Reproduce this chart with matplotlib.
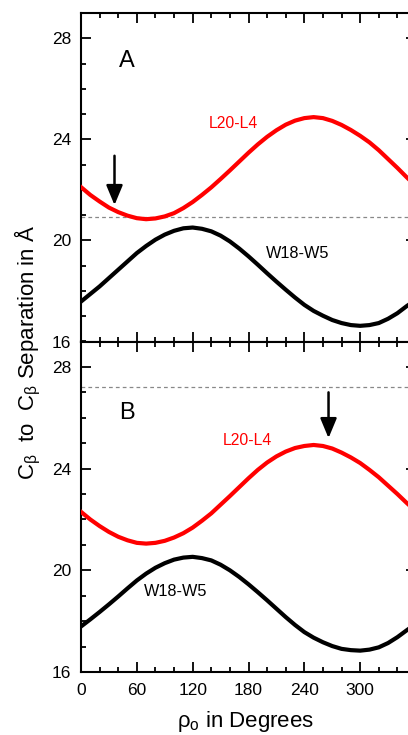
import matplotlib
matplotlib.use("Agg")
import matplotlib.pyplot as plt
from matplotlib.ticker import MultipleLocator, FixedLocator, FixedFormatter

plt.rcParams['font.family'] = ['Liberation Sans', 'DejaVu Sans']
plt.rcParams['mathtext.fontset'] = 'custom'
plt.rcParams['mathtext.rm'] = 'Liberation Sans'
plt.rcParams['mathtext.it'] = 'Liberation Sans'

# angle in degrees, every 10
angle = list(range(0, 361, 10))

# panel A
l20_l4_a = [22.11, 21.8, 21.54, 21.3, 21.12, 20.98, 20.88, 20.84, 20.87, 20.95,
            21.08, 21.28, 21.52, 21.8, 22.1, 22.43, 22.77, 23.12, 23.47, 23.8,
            24.1, 24.36, 24.58, 24.74, 24.84, 24.88, 24.84, 24.73, 24.57, 24.37,
            24.14, 23.88, 23.57, 23.22, 22.87, 22.5, 22.15]
w18_w5_a = [17.58, 17.88, 18.18, 18.51, 18.84, 19.17, 19.5, 19.78, 20.03, 20.23,
            20.38, 20.48, 20.51, 20.46, 20.36, 20.19, 19.96, 19.68, 19.37, 19.04,
            18.7, 18.37, 18.05, 17.74, 17.45, 17.21, 17.02, 16.85, 16.73, 16.65,
            16.62, 16.65, 16.73, 16.9, 17.12, 17.4, 17.65]

# panel B
l20_l4_b = [22.3, 22.0, 21.74, 21.51, 21.32, 21.18, 21.08, 21.05, 21.08, 21.16,
            21.29, 21.46, 21.68, 21.95, 22.24, 22.58, 22.92, 23.27, 23.62, 23.95,
            24.24, 24.48, 24.67, 24.81, 24.89, 24.93, 24.89, 24.79, 24.63, 24.44,
            24.22, 23.95, 23.66, 23.33, 23.0, 22.65, 22.32]
w18_w5_b = [17.79, 18.07, 18.36, 18.66, 18.97, 19.29, 19.6, 19.87, 20.1, 20.28,
            20.42, 20.5, 20.53, 20.48, 20.39, 20.22, 20.0, 19.74, 19.45, 19.14,
            18.82, 18.49, 18.16, 17.85, 17.57, 17.35, 17.17, 17.02, 16.91, 16.86,
            16.84, 16.88, 16.97, 17.14, 17.37, 17.64, 17.9]

dash_level = [20.94, 27.2]
arrow_x = [36, 266]
arrow_y = [(23.35, 21.4), (27.0, 25.2)]
panel_tags = ['A', 'B']
x_ticks = [0, 60, 120, 180, 240, 300, 360]
x_ticklabels = ['0', '60', '120', '180', '240', '300', '']

fig = plt.figure(figsize=(4.08, 7.35), dpi=100)
W, H = 408.0, 735.0
left = 81 / W
width = (416 - 81) / W
axA = fig.add_axes([left, (H - 341.5) / H, width, (341.5 - 13) / H])
axB = fig.add_axes([left, (H - 672) / H, width, (672 - 341.5) / H])

for ax, red, blk, i in [(axA, l20_l4_a, w18_w5_a, 0), (axB, l20_l4_b, w18_w5_b, 1)]:
    ax.axhline(dash_level[i], color='#888888', lw=0.9, ls=(0, (3, 2.5)), zorder=1)
    ax.plot(angle, red, color='#ff0000', lw=3, zorder=3)
    ax.plot(angle, blk, color='black', lw=3, zorder=3)
    ax.annotate('', xy=(arrow_x[i], arrow_y[i][1]), xytext=(arrow_x[i], arrow_y[i][0]),
                arrowprops=dict(arrowstyle='-|>,head_length=0.6,head_width=0.25',
                                mutation_scale=20, lw=1.8, color='black',
                                shrinkA=0, shrinkB=0))
    ax.set_xlim(0, 360)
    ax.set_ylim(16, 29)
    ax.xaxis.set_major_locator(FixedLocator(x_ticks))
    ax.xaxis.set_major_formatter(FixedFormatter(x_ticklabels))
    ax.xaxis.set_minor_locator(MultipleLocator(20))
    ax.yaxis.set_major_locator(MultipleLocator(4))
    ax.yaxis.set_minor_locator(MultipleLocator(1))
    ax.tick_params(which='both', direction='in', top=True, right=True, width=1.3)
    ax.tick_params(which='major', length=7.5, labelsize=12.5)
    ax.tick_params(axis='y', which='major', pad=7)
    ax.tick_params(axis='x', which='major', pad=8)
    ax.tick_params(which='minor', length=3.8)
    for s in ax.spines.values():
        s.set_linewidth(1.5)
    ax.text(49, [27.1, 26.2][i], panel_tags[i], fontsize=17, ha='center', va='center')

axA.tick_params(labelbottom=False)
axA.text(164, 24.62, 'L20-L4', color='#ff0000', fontsize=11.3, ha='center', va='center')
axA.text(233, 19.47, 'W18-W5', color='black', fontsize=11.7, ha='center', va='center')
axB.text(179, 25.12, 'L20-L4', color='#ff0000', fontsize=11.3, ha='center', va='center')
axB.text(102, 19.17, 'W18-W5', color='black', fontsize=11.7, ha='center', va='center')

fig.text(245 / W, 8 / H, r'$\rho_{\mathrm{o}}$ in Degrees', fontsize=16,
         ha='center', va='baseline')
fig.text(28 / W, 0.52, r'C$_\beta$  to  C$_\beta$ Separation in Å', fontsize=16,
         rotation=90, ha='center', va='center')

fig.savefig('out.png', dpi=100)
